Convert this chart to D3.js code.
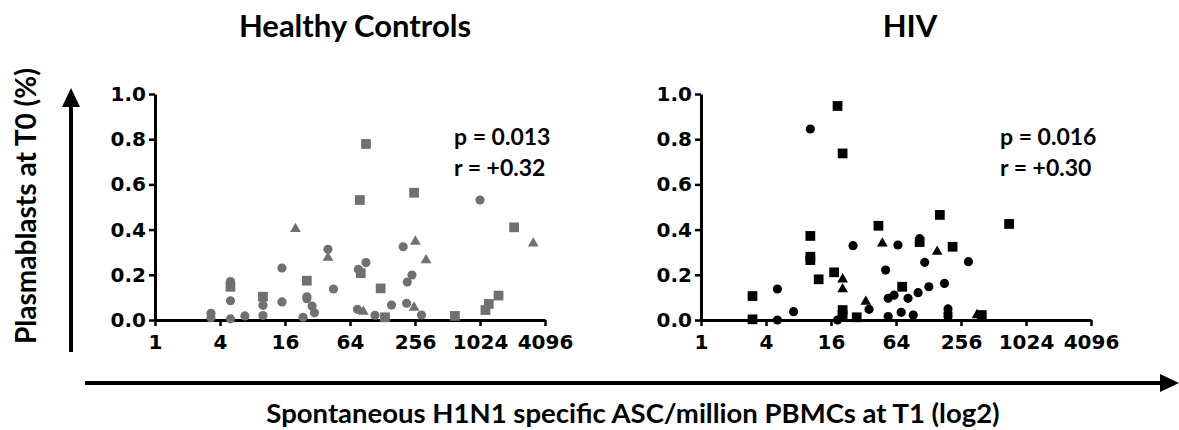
<!DOCTYPE html>
<html>
<head>
<meta charset="utf-8">
<script src="https://cdn.jsdelivr.net/npm/d3@7"></script>
<style>
  html, body { margin: 0; padding: 0; background: #fff; }
</style>
</head>
<body>
<div id="chart"></div>
<script>
// x: spontaneous H1N1 specific ASC / million PBMCs at T1, y: plasmablasts at T0 (%)
const xTicks = [1, 4, 16, 64, 256, 1024, 4096]
const yTicks = [0, 0.2, 0.4, 0.6, 0.8, 1.0]

const hcCircles = [
  [3.3, 0.03], [3.3, 0.01], [5.0, 0.17], [5.0, 0.16], [5.0, 0.085], [5.0, 0.005],
  [6.8, 0.018], [10, 0.065], [10, 0.02], [15, 0.23], [15, 0.08], [23.5, 0.012],
  [25.5, 0.103], [25.5, 0.094], [28.5, 0.062], [30, 0.032], [40, 0.313], [45, 0.137],
  [75, 0.047], [76.5, 0.224], [90, 0.254], [109, 0.021], [155, 0.066], [199, 0.324],
  [214, 0.074], [217, 0.168], [240, 0.199], [294, 0.022], [1024, 0.531]
]
const hcSquares = [
  [5.0, 0.147], [10, 0.103], [25.5, 0.174], [79, 0.531], [90, 0.779], [80.5, 0.207],
  [123, 0.14], [135, 0.012], [251, 0.563], [600, 0.018], [1150, 0.044], [1235, 0.071],
  [1520, 0.108], [2120, 0.41]
]
const hcTriangles = [
  [20, 0.403], [40, 0.276], [85, 0.037], [251, 0.055], [258, 0.347], [324, 0.265], [3190, 0.339]
]

const hivCircles = [
  [5.1, 0.137], [5.1, 0.0], [7.2, 0.037], [10.3, 0.845], [18.4, 0.0], [25.6, 0.329],
  [36, 0.047], [51.3, 0.221], [54.2, 0.096], [61.4, 0.11], [54.2, 0.015], [66.7, 0.332],
  [71.5, 0.034], [82.7, 0.096], [92.4, 0.022], [102.5, 0.121], [106, 0.36], [118, 0.255],
  [129, 0.147], [180, 0.162], [194, 0.049], [194, 0.03], [194, 0.015], [300, 0.258]
]
const hivSquares = [
  [3.0, 0.106], [3.0, 0.003], [10.3, 0.372], [10.3, 0.28], [10.3, 0.265], [12.3, 0.18],
  [17.1, 0.211], [18.4, 0.947], [20.5, 0.737], [20.5, 0.044], [20.5, 0.022], [27.7, 0.012],
  [44, 0.417], [73, 0.147], [106, 0.345], [163, 0.465], [214, 0.324], [399, 0.022], [714, 0.425]
]
const hivTriangles = [
  [20.5, 0.18], [20.5, 0.136], [33.6, 0.081], [47.8, 0.339], [154, 0.302], [360, 0.022]
]

const width = 1179
const height = 430
const plotW = 390
const plotH = 226
const plotTop = 94

const svg = d3
  .create("svg")
  .attr("viewBox", [0, 0, width, height])
  .attr("width", width)
  .attr("height", height)

const x = d3.scaleLog().base(2).domain([1, 4096]).range([0, plotW])
const y = d3.scaleLinear().domain([0, 1]).range([plotH, 0])

const drawPanel = ({ left, title, titleX, color, circles, squares, triangles, p, r }) => {
  const g = svg.append("g").attr("transform", `translate(${left}, ${plotTop})`)

  const yAxis = d3
    .axisLeft(y)
    .tickValues(yTicks)
    .tickFormat(d3.format(".1f"))
    .tickSize(6)
    .tickSizeOuter(0)
    .tickPadding(3)
  const xAxis = d3
    .axisBottom(x)
    .tickValues(xTicks)
    .tickFormat(d => d)
    .tickSize(6)
    .tickSizeOuter(0)
    .tickPadding(9)

  const gx = g.append("g").attr("transform", `translate(0, ${plotH})`).call(xAxis)
  const gy = g.append("g").call(yAxis)

  ;[gx, gy].forEach(a => {
    a.attr("font-family", "DejaVu Sans").attr("font-size", 20).attr("font-weight", "bold")
    a.select(".domain").attr("stroke-width", 3)
    a.selectAll(".tick line").attr("stroke-width", 2.5)
    a.selectAll(".tick text").attr("fill", "#000")
  })

  const symbols = [
    [circles, d3.symbolCircle, 66],
    [squares, d3.symbolSquare, 95],
    [triangles, d3.symbolTriangle, 50]
  ]
  symbols.forEach(([data, type, size]) => {
    g.append("g")
      .attr("fill", color)
      .selectAll("path")
      .data(data)
      .join("path")
      .attr("transform", d => `translate(${x(d[0])}, ${y(d[1])})`)
      .attr("d", d3.symbol().type(type).size(size))
  })

  svg.append("text")
    .attr("x", titleX)
    .attr("y", 37)
    .attr("text-anchor", "middle")
    .attr("font-family", "Lato")
    .attr("font-weight", "bold")
    .attr("font-size", 31)
    .text(title)

  const stats = svg.append("g")
    .attr("font-family", "Lato")
    .attr("font-weight", "bold")
    .attr("font-size", 23)
  stats.append("text").attr("x", left + 299).attr("y", 145).text(p)
  stats.append("text").attr("x", left + 299).attr("y", 176).text(r)
}

drawPanel({
  left: 155, title: "Healthy Controls", titleX: 355, color: "#707070",
  circles: hcCircles, squares: hcSquares, triangles: hcTriangles,
  p: "p = 0.013", r: "r = +0.32"
})
drawPanel({
  left: 701, title: "HIV", titleX: 910, color: "#000",
  circles: hivCircles, squares: hivSquares, triangles: hivTriangles,
  p: "p = 0.016", r: "r = +0.30"
})

// big arrows
const arrows = svg.append("g").attr("fill", "#000").attr("stroke", "#000")
arrows.append("line")
  .attr("x1", 71).attr("y1", 352).attr("x2", 71).attr("y2", 104)
  .attr("stroke-width", 4)
arrows.append("path")
  .attr("d", "M71,88L80,107L62,107Z")
  .attr("stroke", "none")
arrows.append("line")
  .attr("x1", 85).attr("y1", 383).attr("x2", 1164).attr("y2", 383)
  .attr("stroke-width", 4)
arrows.append("path")
  .attr("d", "M1179,383L1160,374L1160,392Z")
  .attr("stroke", "none")

svg.append("text")
  .attr("transform", "translate(36, 206) rotate(-90)")
  .attr("text-anchor", "middle")
  .attr("font-family", "Lato")
  .attr("font-weight", "bold")
  .attr("font-size", 28)
  .text("Plasmablasts at T0 (%)")

svg.append("text")
  .attr("x", 633)
  .attr("y", 423)
  .attr("text-anchor", "middle")
  .attr("font-family", "Lato")
  .attr("font-weight", "bold")
  .attr("font-size", 27.5)
  .text("Spontaneous H1N1 specific ASC/million PBMCs at T1 (log2)")

document.querySelector("#chart").append(svg.node())
</script>
</body>
</html>
